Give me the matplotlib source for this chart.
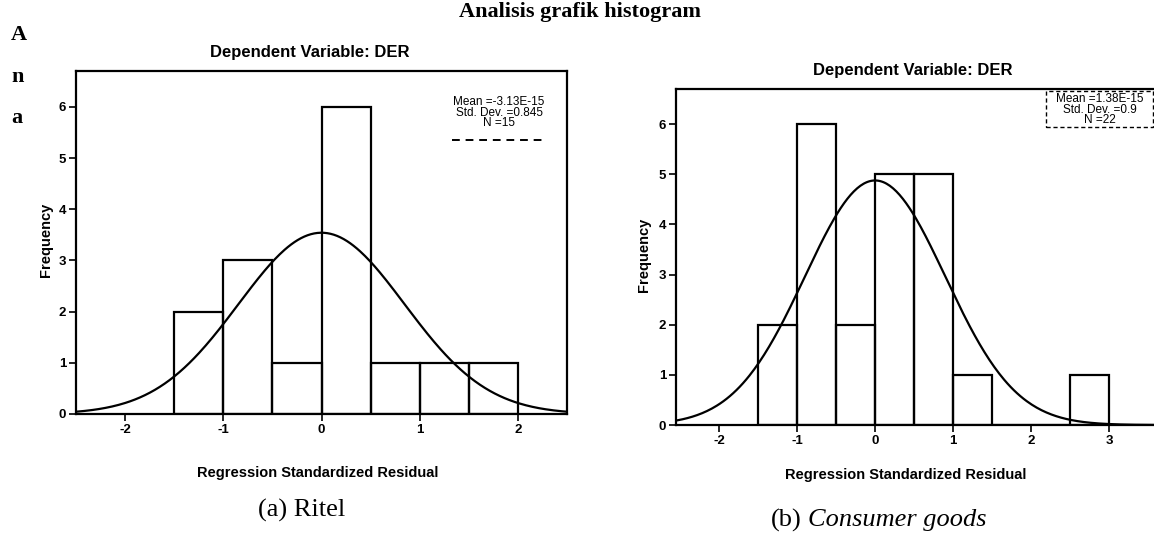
import numpy as np
import matplotlib
matplotlib.use("Agg")
import matplotlib.pyplot as plt
from matplotlib.patches import Rectangle
from matplotlib.lines import Line2D

plt.rcParams['axes.unicode_minus'] = False

# histogram data (bin width 0.5)
ritel_edges = [-1.5, -1.0, -0.5, 0.0, 0.5, 1.0, 1.5, 2.0]
ritel_counts = [2, 3, 1, 6, 1, 1, 1]
ritel_mean = -3.13e-15
ritel_std = 0.845
ritel_n = 15

cg_edges = [-1.5, -1.0, -0.5, 0.0, 0.5, 1.0, 1.5, 2.0, 2.5, 3.0]
cg_counts = [2, 6, 2, 5, 5, 1, 0, 0, 1]
cg_mean = 1.38e-15
cg_std = 0.9
cg_n = 22

W, H = 1154, 534
SANS = ['Liberation Sans', 'DejaVu Sans']
SERIF = ['Liberation Serif', 'DejaVu Serif']


def fx(px):
    return px / W


def fy(py):
    return 1 - py / H


def draw_panel(ax, edges, counts, mean, std, n, xlim, xticks):
    widths = np.diff(edges)
    ax.bar(edges[:-1], counts, width=widths, align='edge', facecolor='none',
           edgecolor='black', linewidth=1.6)
    xs = np.linspace(xlim[0], xlim[1], 300)
    pdf = np.exp(-0.5 * ((xs - mean) / std) ** 2) / (std * np.sqrt(2 * np.pi))
    ax.plot(xs, n * widths[0] * pdf, color='black', linewidth=1.6)
    ax.set_xlim(xlim)
    ax.set_ylim(0, 6.7)
    ax.set_xticks(xticks)
    ax.set_yticks(range(0, 7))
    ax.tick_params(direction='out', length=5, width=1.2, pad=2, labelsize=9.5)
    for lab in ax.get_xticklabels() + ax.get_yticklabels():
        lab.set_fontweight('bold')
        lab.set_family(SANS)
    for side in ['top', 'left', 'bottom', 'right']:
        ax.spines[side].set_linewidth(1.6)
    ax.patch.set_alpha(0)


fig = plt.figure(figsize=(W / 100, H / 100), dpi=100)

# left panel: Ritel
ax1 = fig.add_axes([fx(76), fy(414), fx(567 - 76), (414 - 71) / H])
draw_panel(ax1, ritel_edges, ritel_counts, ritel_mean, ritel_std, ritel_n,
           (-2.5, 2.5), [-2, -1, 0, 1, 2])

# right panel: Consumer goods (cut off by the page edge)
ax2 = fig.add_axes([fx(676), fy(425), fx(1164 - 676), (425 - 89) / H])
draw_panel(ax2, cg_edges, cg_counts, cg_mean, cg_std, cg_n,
           (-2.55, 3.7), [-2, -1, 0, 1, 2, 3])

# page title and side letters
fig.text(fx(580), fy(17), 'Analisis grafik histogram', ha='center', va='baseline',
         fontsize=16, fontweight='bold', family=SERIF)
for letter, py in zip(['A', 'n', 'a'], [35, 77, 118]):
    fig.text(fx(11), fy(py), letter, ha='left', va='center', fontsize=16,
             fontweight='bold', family=SERIF)

# panel titles
fig.text(fx(310), fy(53), 'Dependent Variable: DER', ha='center', va='center',
         fontsize=12, fontweight='bold', family=SANS)
fig.text(fx(913), fy(70), 'Dependent Variable: DER', ha='center', va='center',
         fontsize=12, fontweight='bold', family=SANS)

# axis labels
for px, py in [(46, 240), (644, 255)]:
    fig.text(fx(px), fy(py), 'Frequency', ha='center', va='center', rotation=90,
             fontsize=10.5, fontweight='bold', family=SANS)
for px, py in [(318, 473), (906, 475)]:
    fig.text(fx(px), fy(py), 'Regression Standardized Residual', ha='center',
             va='center', fontsize=10.5, fontweight='bold', family=SANS)

# statistics boxes
fig.text(fx(499), fy(96), 'Mean =-3.13E-15\nStd. Dev. =0.845\nN =15', ha='center',
         va='top', fontsize=8.5, linespacing=0.85, family=SANS)
fig.add_artist(Line2D([fx(452), fx(547)], [fy(140), fy(140)], color='black',
                      linewidth=1.4, linestyle=(0, (4, 3))))

fig.text(fx(1100), fy(93), 'Mean =1.38E-15\nStd. Dev. =0.9\nN =22', ha='center',
         va='top', fontsize=8.5, linespacing=0.85, family=SANS)
fig.add_artist(Rectangle((fx(1046), fy(127)), fx(1153 - 1046), (127 - 91) / H,
                         fill=False, edgecolor='black', linewidth=1.0,
                         linestyle=(0, (3, 2))))

# captions
fig.text(fx(302), fy(510), '(a) Ritel', ha='center', va='center', fontsize=19,
         family=SERIF)
fig.text(fx(802), fy(520), '(b)', ha='right', va='center', fontsize=19,
         family=SERIF)
fig.text(fx(808), fy(520), 'Consumer goods', ha='left', va='center', fontsize=19,
         family=SERIF, style='italic')

fig.savefig('out.png', dpi=100)
